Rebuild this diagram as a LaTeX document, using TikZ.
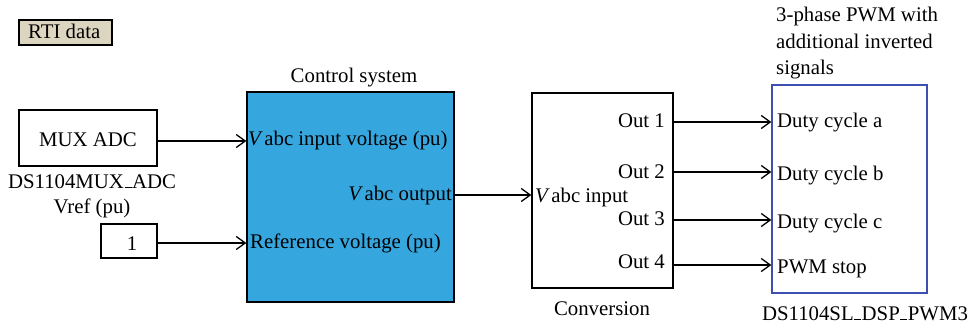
\documentclass[tikz,border=0pt]{standalone}
\usepackage{fontspec}
\setmainfont{Liberation Serif}
\usetikzlibrary{arrows.meta}
\definecolor{rtitan}{HTML}{DCD6C0}
\definecolor{ctrlblue}{HTML}{36A6DF}
\definecolor{pwmblue}{HTML}{3F4FAF}
\tikzset{
  txt/.style={inner sep=0pt, font=\fontsize{20.8}{24}\selectfont},
  blk/.style={draw=black, line width=1.3pt, inner sep=0pt},
  conn/.style={line width=1.3pt, -{Straight Barb[length=9pt,width=13pt,line width=1.3pt]}},
}
\newcommand{\Vit}{\textit{V}\kern1.5pt}
\newcommand{\usc}{\kern0.5pt\rule{7pt}{1.3pt}\kern0.5pt}
\begin{document}
\begin{tikzpicture}[x=1pt,y=-1pt]
\useasboundingbox (0,0) rectangle (969,329);
% RTI data
\node[blk, fill=rtitan, minimum width=93pt, minimum height=25pt] (rti) at (65.5,32.5) {};
\node[txt, anchor=base west] (rtit) at (28,39) {RTI data};
% MUX ADC
\node[blk, minimum width=138pt, minimum height=56pt] (mux) at (88,138) {};
\node[txt, anchor=base] (muxt) at (88,146) {MUX ADC};
\node[txt, anchor=base] (muxl) at (92,188) {DS1104MUX\usc ADC};
\node[txt, anchor=base] (vrefl) at (92,213) {Vref (pu)};
% constant 1
\node[blk, minimum width=56pt, minimum height=34pt] (one) at (129,241) {};
\node[txt, anchor=base] (onet) at (132,250) {1};
% control system
\node[blk, fill=ctrlblue, minimum width=207pt, minimum height=210pt] (ctrl) at (350.5,197) {};
\node[txt, anchor=base] (ctrll) at (354,82) {Control system};
\node[txt, anchor=base west] (cin1) at (248,145) {\Vit abc input voltage (pu)};
\node[txt, anchor=base east] (cout) at (452,200) {\Vit abc output};
\node[txt, anchor=base west] (cin2) at (250,248) {Reference voltage (pu)};
% conversion
\node[blk, minimum width=141pt, minimum height=195pt] (conv) at (602.5,190.5) {};
\node[txt, anchor=base] (convl) at (602,315) {Conversion};
\node[txt, anchor=base west] (convin) at (535,202) {\Vit abc input};
\node[txt, anchor=base east] (o1) at (665,127) {Out 1};
\node[txt, anchor=base east] (o2) at (665,178) {Out 2};
\node[txt, anchor=base east] (o3) at (665,225) {Out 3};
\node[txt, anchor=base east] (o4) at (665,268) {Out 4};
% PWM block
\node[blk, draw=pwmblue, minimum width=155pt, minimum height=208pt] (pwm) at (849.5,189) {};
\node[txt, anchor=north west, align=left, font=\fontsize{20.8}{26.5}\selectfont] (pwmt) at (776,7) {3-phase PWM with\\additional inverted\\signals};
\node[txt, anchor=base] (pwml) at (865,320) {DS1104SL\usc DSP\usc PWM3};
\node[txt, anchor=base west] (da) at (777,127) {Duty cycle a};
\node[txt, anchor=base west] (db) at (777,180) {Duty cycle b};
\node[txt, anchor=base west] (dc) at (777,228) {Duty cycle c};
\node[txt, anchor=base west] (ps) at (777,273) {PWM stop};
% ports
\coordinate (p1) at (673,122);
\coordinate (p2) at (673,172);
\coordinate (p3) at (673,220);
\coordinate (p4) at (673,265);
\coordinate (cp) at (454,195);
\coordinate (mp) at (157,141);
\coordinate (op) at (157,243);
% connectors
\draw[conn] (mp) -- (mp -| ctrl.west);
\draw[conn] (op) -- (op -| ctrl.west);
\draw[conn] (cp) -- (cp -| conv.west);
\draw[conn] (p1) -- (p1 -| pwm.west);
\draw[conn] (p2) -- (p2 -| pwm.west);
\draw[conn] (p3) -- (p3 -| pwm.west);
\draw[conn] (p4) -- (p4 -| pwm.west);
\end{tikzpicture}
\end{document}
